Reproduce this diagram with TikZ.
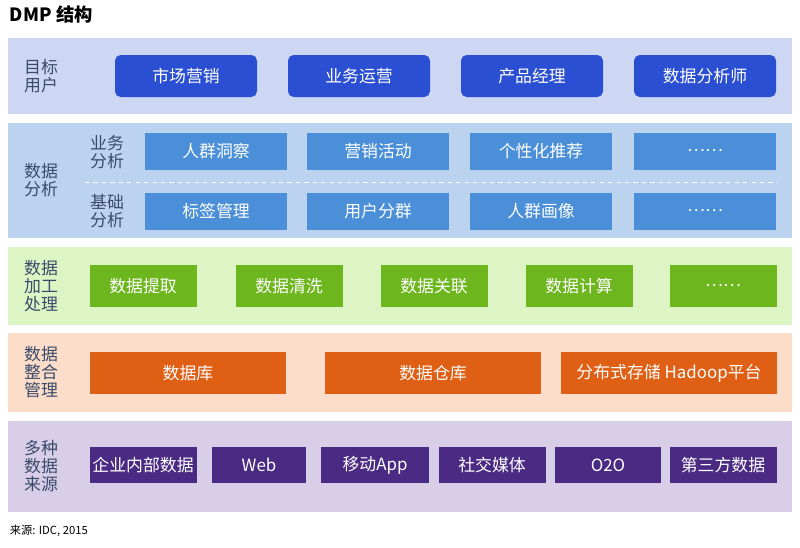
\documentclass[tikz,border=0pt]{standalone}
\usepackage{fontspec}
\setmainfont{Noto Sans CJK SC}
\usetikzlibrary{positioning}
\definecolor{bandA}{HTML}{CDD6F2}
\definecolor{bandB}{HTML}{BCD3EF}
\definecolor{bandC}{HTML}{DDF5C4}
\definecolor{bandD}{HTML}{FBDDC9}
\definecolor{bandE}{HTML}{D9CEE8}
\definecolor{boxA}{HTML}{2B4FD3}
\definecolor{boxB}{HTML}{4A8FD8}
\definecolor{boxC}{HTML}{6DB61E}
\definecolor{boxD}{HTML}{DF5F14}
\definecolor{boxE}{HTML}{4B2A83}
\definecolor{lbl}{HTML}{3A4A6A}
\tikzset{
  band/.style={fill=#1,draw=none},
  blk/.style={fill=#1,draw=none,rounded corners=1pt,text=white,font=\fontsize{12}{14}\selectfont},
  side/.style={text=lbl,align=center,font=\fontsize{12}{13}\selectfont,inner sep=0pt}
}
\begin{document}
\begin{tikzpicture}[x=0.025cm,y=-0.025cm]
  \useasboundingbox (0,0) rectangle (800,547);
  \node[anchor=west,font=\bfseries\fontsize{13}{15}\selectfont] (title) at (5,15) {DMP 结构};
  % bands
  \fill[band=bandA] (8,38) rectangle (792,114);
  \fill[band=bandB] (8,123) rectangle (792,238);
  \fill[band=bandC] (8,247) rectangle (792,325);
  \fill[band=bandD] (8,333) rectangle (792,412);
  \fill[band=bandE] (8,421) rectangle (792,512);
  % side labels
  \node[side] (yh) at (41,76) {目标\\用户};
  \node[side] (sjfx) at (41,180) {数据\\分析};
  \node[side] (ywfx) at (107,152) {业务\\分析};
  \node[side] (jcfx) at (107,211) {基础\\分析};
  \node[side] (jg) at (41,286) {数据\\加工\\处理};
  \node[side] (zh) at (41,372) {数据\\整合\\管理};
  \node[side] (ly) at (41,466) {多种\\数据\\来源};
  \draw[white,dashed] (85,182) -- (777,182);
  % row 1
  \foreach \x/\t in {186/市场营销,359/业务运营,532/产品经理,705/数据分析师}
    \node[blk=boxA,minimum width=142*0.025cm,minimum height=42*0.025cm,rounded corners=4pt] at (\x,76) {\t};
  % row 2
  \foreach \x/\t in {216/人群洞察,378/营销活动,541/个性化推荐,705/……}
    \node[blk=boxB,minimum width=142*0.025cm,minimum height=37*0.025cm,rounded corners=0pt] at (\x,151) {\t};
  \foreach \x/\t in {216/标签管理,378/用户分群,541/人群画像,705/……}
    \node[blk=boxB,minimum width=142*0.025cm,minimum height=37*0.025cm,rounded corners=0pt] at (\x,211) {\t};
  % row 3
  \foreach \x/\t in {143/数据提取,289/数据清洗,434/数据关联,579/数据计算,723/……}
    \node[blk=boxC,minimum width=107*0.025cm,minimum height=42*0.025cm,rounded corners=0pt] at (\x,286) {\t};
  % row 4
  \foreach \x/\w/\t in {188/196/数据库,433/216/数据仓库,669/216/分布式存储 Hadoop平台}
    \node[blk=boxD,minimum width=\w*0.025cm,minimum height=42*0.025cm,rounded corners=0pt] at (\x,373) {\t};
  % row 5
  \foreach \x/\w/\t in {143/107/企业内部数据,259/94/Web,375/108/移动App,492/107/社交媒体,608/106/O2O,723/107/第三方数据}
    \node[blk=boxE,minimum width=\w*0.025cm,minimum height=36*0.025cm,rounded corners=0pt,inner sep=0pt] at (\x,465) {\t};
  \node[anchor=west,font=\fontsize{8}{9}\selectfont] (src) at (5,531) {来源: IDC, 2015};
\end{tikzpicture}
\end{document}
